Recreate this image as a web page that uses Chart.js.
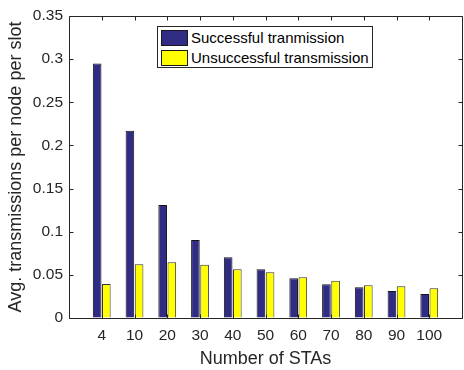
<!DOCTYPE html>
<html>
<head>
<meta charset="utf-8">
<script src="https://cdn.jsdelivr.net/npm/chart.js@4"></script>
<style>
  html, body { margin: 0; padding: 0; background: #fff; overflow: hidden; }
  #wrap { position: relative; width: 470px; height: 370px; }
  #legend { position: absolute; left: 157px; top: 26px; width: 216px; height: 42px;
            background: #fff; border: 1px solid #262626; box-sizing: border-box;
            font-family: "Liberation Sans", Arial, sans-serif; font-size: 15px; color: #000; }
  .item { position: absolute; left: 3px; height: 17px; display: flex; align-items: center; white-space: nowrap; }
  .sw { width: 27px; height: 16px; border: 1px solid #1a1a1a; margin-right: 3px; box-sizing: border-box; }
</style>
</head>
<body>
<div id="wrap">
  <canvas id="c" width="470" height="370"></canvas>
  <div id="legend"></div>
</div>
<script>
// ---- data ----
const categories = ['4', '10', '20', '30', '40', '50', '60', '70', '80', '90', '100'];
const successful = [0.295, 0.217, 0.131, 0.0905, 0.0705, 0.0566, 0.0462, 0.0392, 0.0357, 0.0314, 0.0279];
const unsuccessful = [0.0395, 0.0624, 0.0647, 0.0616, 0.0566, 0.0531, 0.0473, 0.0431, 0.038, 0.0369, 0.0345];
const seriesLabels = ['Successful tranmission', 'Unsuccessful transmission'];
const xTitle = 'Number of STAs';
const yTitle = 'Avg. transmissions per node per slot';

const FONT = '"Liberation Sans", Arial, sans-serif';
const INK = '#262626';

const toPoints = arr => arr.map((v, i) => ({ x: i + 1, y: v }));

const framePlugin = {
  id: 'frame',
  afterDatasetsDraw(chart) {
    const { ctx, chartArea: a, scales: { x, y } } = chart;
    const L = Math.round(a.left) + 0.5, R = Math.round(a.right) + 0.5;
    const T = Math.round(a.top) + 0.5, B = Math.round(a.bottom) + 0.5;
    const len = 4;
    ctx.save();
    ctx.strokeStyle = INK;
    ctx.lineWidth = 1;
    ctx.beginPath();
    ctx.rect(L, T, R - L, B - T);
    x.ticks.forEach(t => {
      const px = Math.round(x.getPixelForValue(t.value)) + 0.5;
      ctx.moveTo(px, B); ctx.lineTo(px, B - len);
      ctx.moveTo(px, T); ctx.lineTo(px, T + len);
    });
    y.ticks.forEach(t => {
      const py = Math.round(y.getPixelForValue(t.value)) + 0.5;
      ctx.moveTo(L, py); ctx.lineTo(L + len, py);
      ctx.moveTo(R, py); ctx.lineTo(R - len, py);
    });
    ctx.stroke();
    ctx.restore();
  }
};

const chart = new Chart(document.getElementById('c'), {
  type: 'bar',
  data: {
    datasets: [
      { label: seriesLabels[0], data: toPoints(successful), backgroundColor: '#302b83', borderColor: '#141414', borderWidth: 1 },
      { label: seriesLabels[1], data: toPoints(unsuccessful), backgroundColor: '#ffff00', borderColor: '#333333', borderWidth: 1 }
    ]
  },
  options: {
    responsive: false,
    animation: false,
    devicePixelRatio: 1,
    categoryPercentage: 0.56,
    barPercentage: 0.94,
    layout: { padding: { top: 16, right: 5, left: 0, bottom: 0 } },
    plugins: { legend: { display: false }, tooltip: { enabled: false } },
    scales: {
      x: {
        type: 'linear',
        min: 0, max: 12,
        offset: false,
        grid: { display: true, drawOnChartArea: false, drawTicks: false },
        border: { display: false },
        ticks: {
          stepSize: 1, autoSkip: false, maxRotation: 0, padding: 8,
          color: INK, font: { family: FONT, size: 15.5 },
          callback: v => (Number.isInteger(v) && v >= 1 && v <= categories.length) ? categories[v - 1] : ''
        },
        title: { display: true, text: xTitle, color: INK, font: { family: FONT, size: 18 }, padding: { top: 0, bottom: 0 } },
        afterFit: s => { s.height = 52; }
      },
      y: {
        min: 0, max: 0.35,
        grid: { display: true, drawOnChartArea: false, drawTicks: false },
        border: { display: false },
        ticks: {
          stepSize: 0.05, padding: 6, color: INK, font: { family: FONT, size: 15.5 },
          callback: v => String(parseFloat(v.toFixed(2)))
        },
        title: { display: true, text: yTitle, color: INK, font: { family: FONT, size: 18 }, padding: { top: 5, bottom: 0 } },
        afterFit: s => { s.width = 69; }
      }
    }
  },
  plugins: [framePlugin]
});

// HTML legend built from the chart's datasets
const legend = document.getElementById('legend');
chart.data.datasets.forEach((ds, i) => {
  const item = document.createElement('div');
  item.className = 'item';
  item.style.top = (2 + i * 20) + 'px';
  const sw = document.createElement('span');
  sw.className = 'sw';
  sw.style.background = ds.backgroundColor;
  const tx = document.createElement('span');
  tx.textContent = ds.label;
  item.appendChild(sw); item.appendChild(tx);
  legend.appendChild(item);
});
</script>
</body>
</html>
